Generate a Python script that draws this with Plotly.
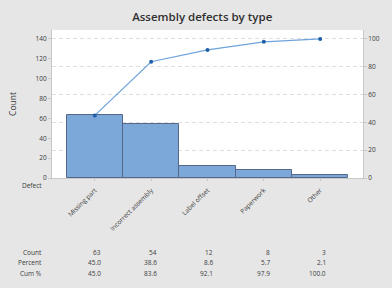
import plotly.graph_objects as go

categories = ["Missing part", "Incorrect assembly", "Label offset", "Paperwork", "Other"]
counts = [63, 54, 12, 8, 3]
percents = [45.0, 38.6, 8.6, 5.7, 2.1]
cum_pct = [45.0, 83.6, 92.1, 97.9, 100.0]
row_labels = ["Count", "Percent", "Cum %"]

FONT = "Open Sans"
TXT = "#3a3a3a"
FS = 6.5

fig = go.Figure()
fig.add_trace(go.Bar(
    x=categories, y=counts, width=1,
    marker=dict(color="#7ba7d9", line=dict(color="#56688a", width=1)),
    yaxis="y", showlegend=False, hoverinfo="skip",
))
fig.add_trace(go.Scatter(
    x=categories, y=cum_pct, yaxis="y2", mode="lines+markers",
    line=dict(color="#6ea3dc", width=1.2),
    marker=dict(color="#1f5ea8", size=4),
    showlegend=False, hoverinfo="skip",
))

ymax = 149
fig.update_layout(
    width=392, height=288,
    margin=dict(l=52, r=25, t=30, b=110),
    paper_bgcolor="#e6e6e6", plot_bgcolor="white",
    font=dict(family=FONT, size=FS, color=TXT),
    title=dict(text="Assembly defects by type", x=0.483, xref="paper",
               xanchor="center", y=0.94, yref="container", yanchor="middle",
               font=dict(family=FONT, size=11.5, color="#303030", weight=600)),
    xaxis=dict(type="category", range=[-0.76, 4.76], tickangle=-45,
               showline=True, linecolor="#c8c8c8", ticks="outside",
               ticklen=2, tickcolor="#c8c8c8", tickfont=dict(size=FS),
               ticklabelstandoff=3, showgrid=False),
    yaxis=dict(range=[0, ymax], tickvals=[0, 20, 40, 60, 80, 100, 120, 140],
               showline=True, linecolor="#c8c8c8", ticks="outside",
               ticklen=3, tickcolor="#c8c8c8", showgrid=False, zeroline=False,
               title=dict(text="Count", font=dict(size=8.5), standoff=17),
               tickfont=dict(size=FS)),
    yaxis2=dict(range=[0, ymax * 100 / 140], overlaying="y", side="right",
                tickvals=[0, 20, 40, 60, 80, 100],
                showline=True, linecolor="#c8c8c8", ticks="outside",
                ticklen=3, tickcolor="#c8c8c8", showgrid=True,
                gridcolor="#dedede", griddash="4px,3px", gridwidth=1,
                zeroline=False, tickfont=dict(size=FS)),
    bargap=0,
)

# "Defect" label
fig.add_annotation(text="Defect", xref="paper", yref="paper",
                   x=-0.025, y=(178 - 186) / 148, xanchor="right",
                   yanchor="middle", showarrow=False, font=dict(size=FS))

rows = [
    [str(c) for c in counts],
    [f"{p:.1f}" for p in percents],
    [f"{c:.1f}" for c in cum_pct],
]
row_py = [252, 262.5, 273]
for lbl, vals, py in zip(row_labels, rows, row_py):
    yp = (178 - py) / 148
    fig.add_annotation(text=lbl, xref="paper", yref="paper", x=-0.025, y=yp,
                       xanchor="right", yanchor="middle", showarrow=False,
                       font=dict(size=FS))
    for i, v in enumerate(vals):
        fig.add_annotation(text=v, xref="x", yref="paper", x=i + 0.14, y=yp,
                           xanchor="right", yanchor="middle", showarrow=False,
                           font=dict(size=FS))

fig.write_html("out.html")
